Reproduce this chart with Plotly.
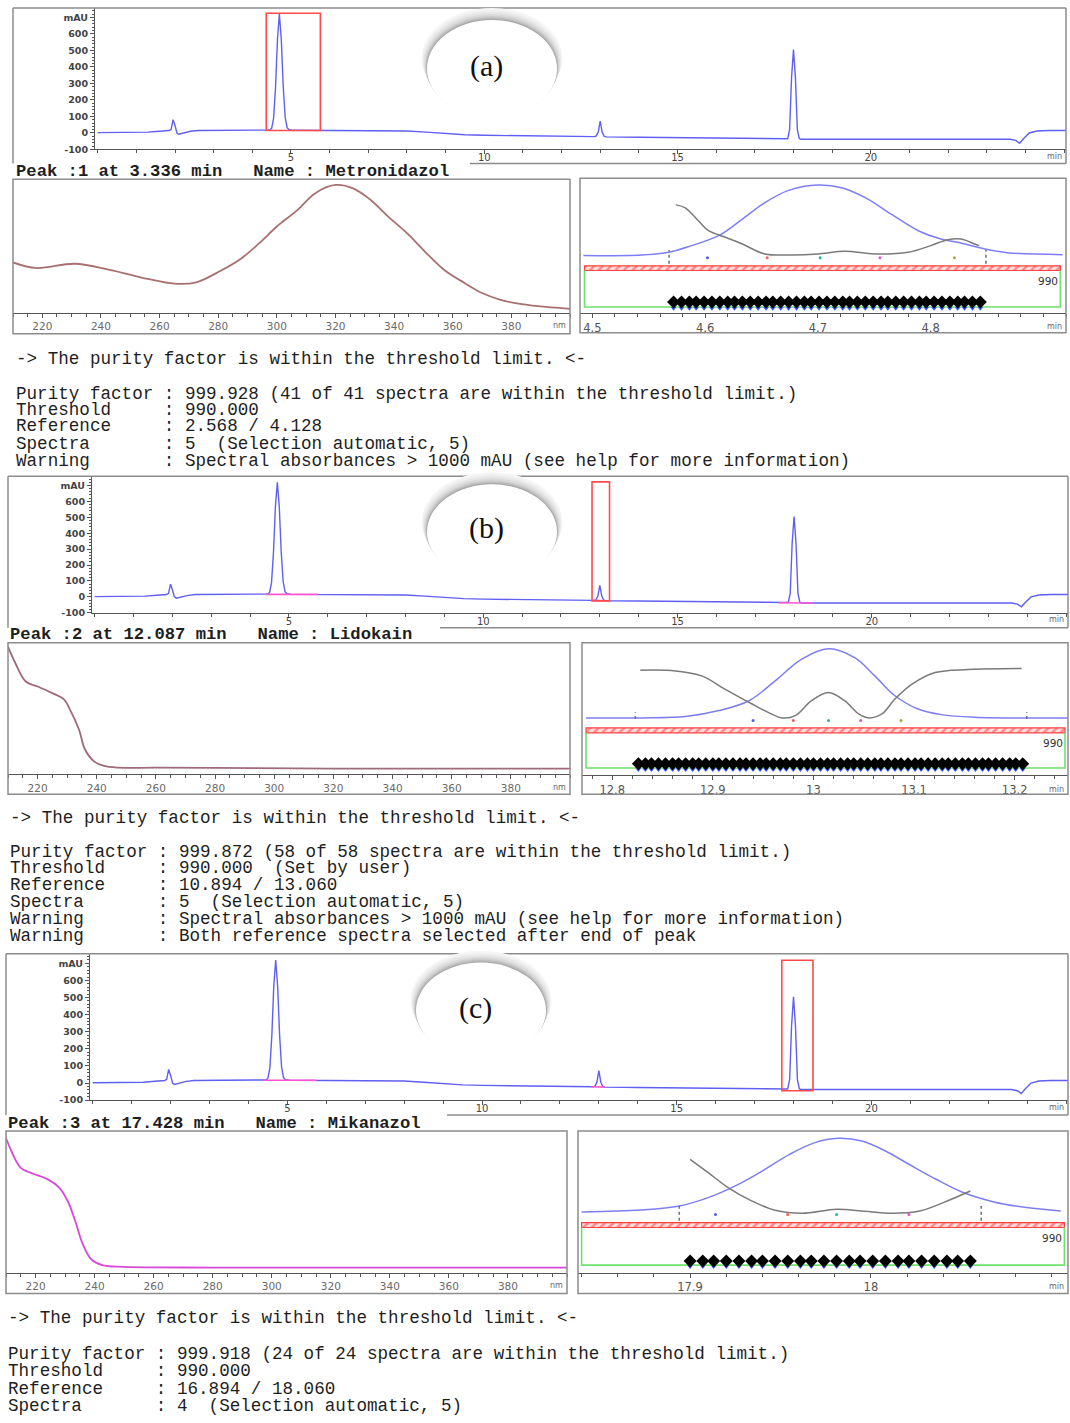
import plotly.graph_objects as go

W, H = 1070, 1423

# ===================== DATA =====================
# Chromatogram (same run shown in panels a, b, c)
chrom_time = [0.0, 1.0, 1.3, 1.6, 1.85, 1.9, 1.95, 2.0, 2.05, 2.1, 2.2, 2.4, 2.6, 3.5, 4.4, 4.45, 4.5, 4.55,
              4.6, 4.65, 4.7, 4.75, 4.8, 4.85, 4.9, 4.95, 5.05, 6.0, 7.0, 8.0, 8.5, 9.0, 9.5, 10.0, 11.0, 12.0,
              12.85, 12.9, 12.95, 13.0, 13.05, 13.1, 13.15, 14.0, 15.0, 16.0, 17.0, 17.8, 17.85, 17.9, 17.95,
              18.0, 18.05, 18.1, 18.15, 18.2, 20.0, 22.0, 23.6, 23.75, 23.85, 23.95, 24.1, 24.3, 24.6, 25.1]
chrom_mau = [2, 3, 5, 10, 15, 22, 80, 45, 0, -8, -3, 10, 15, 15, 16, 18, 28, 88,
             275, 565, 720, 565, 280, 95, 32, 20, 16, 15, 14, 12, 5, -5, -11, -14, -17, -20,
             -22, -18, 5, 72, 5, -20, -24, -26, -28, -32, -35, -37, -35, 20, 335,
             505, 335, 20, -35, -38, -38, -38, -38, -45, -62, -35, 0, 12, 15, 15]
chrom_ytick_vals = [-100, 0, 100, 200, 300, 400, 500, 600, 700]
chrom_ytick_text = ['-100', '0', '100', '200', '300', '400', '500', '600', 'mAU']
chrom_xtick_vals = [5, 10, 15, 20]

# highlighted peak windows (min) and their mAU span
win_a_t = [4.36, 5.76]
win_a_mau = [15, 725]
win_b_t = [12.8, 13.25]
win_b_mau = [-25, 722]
win_c_t = [17.7, 18.5]
win_c_mau = [-45, 718]

# integration baselines (magenta)
base_b_t = [4.4, 5.75, None, 12.85, 13.2, None, 17.6, 18.5]
base_b_mau = [16, 16, None, -22, -24, None, -37, -38]
base_c_t = [4.4, 5.75, None, 12.8, 13.15]
base_c_mau = [16, 16, None, -22, -24]

# UV spectra (normalised absorbance)
spec_ticks = [220, 240, 260, 280, 300, 320, 340, 360, 380]
spec_a_nm = [210, 218, 231, 243, 256, 265, 272.5, 281, 288, 294, 300, 307, 313, 320, 326, 332, 338, 345,
             351, 357, 364, 370, 376, 383, 389, 400]
spec_a_abs = [0.378, 0.336, 0.368, 0.323, 0.254, 0.219, 0.229, 0.318, 0.41, 0.522, 0.647, 0.77, 0.895, 0.958,
              0.933, 0.846, 0.721, 0.585, 0.448, 0.323, 0.224, 0.149, 0.10, 0.067, 0.05, 0.03]
spec_b_nm = [210, 212.5, 216, 220, 225, 229, 231, 234, 236, 239, 242.5, 247.5, 260, 280, 320, 400]
spec_b_abs = [0.97, 0.844, 0.705, 0.667, 0.617, 0.567, 0.49, 0.34, 0.19, 0.10, 0.063, 0.05, 0.05, 0.048, 0.043, 0.043]
spec_c_nm = [210, 212, 215, 219, 224, 228, 231, 233.5, 236, 239, 243, 250, 280, 400]
spec_c_abs = [0.95, 0.85, 0.74, 0.70, 0.66, 0.60, 0.50, 0.36, 0.20, 0.09, 0.05, 0.04, 0.035, 0.035]

# Peak purity panels (normalised signal units)
pa_range = [4.489, 4.92]
pa_ticks = [4.5, 4.6, 4.7, 4.8]
pa_ticktext = ['4.5', '4.6', '4.7', '4.8']
pa_blue_t = [4.492, 4.544, 4.568, 4.588, 4.612, 4.633, 4.653, 4.674, 4.700, 4.721, 4.742, 4.765, 4.789, 4.809,
             4.824, 4.848, 4.868, 4.917]
pa_blue_v = [0.426, 0.431, 0.451, 0.50, 0.574, 0.697, 0.82, 0.911, 0.951, 0.931, 0.857, 0.734, 0.611, 0.549,
             0.525, 0.475, 0.448, 0.433]
pa_gray_t = [4.574, 4.582, 4.594, 4.603, 4.618, 4.633, 4.653, 4.677, 4.700, 4.724, 4.750, 4.780, 4.800, 4.815,
             4.827, 4.839, 4.843]
pa_gray_v = [0.803, 0.783, 0.685, 0.611, 0.562, 0.512, 0.438, 0.431, 0.438, 0.458, 0.438, 0.451, 0.50, 0.544,
             0.549, 0.512, 0.50]
pa_bounds_t = [4.568, 4.849]
pa_bounds_v = [0.365, 0.468]
pa_dot_t = [4.602, 4.655, 4.702, 4.755, 4.821]
pa_dot_v = [0.409, 0.409, 0.409, 0.409, 0.409]
pa_band_t = [4.493, 4.915]
pa_band_v = [0.315, 0.35]
pa_box_bottom = 0.044
pa_spec_t = [4.572, 4.579, 4.586, 4.592, 4.599, 4.606, 4.613, 4.620, 4.626, 4.633, 4.640, 4.647, 4.654, 4.660,
             4.667, 4.674, 4.681, 4.688, 4.694, 4.701, 4.708, 4.715, 4.722, 4.728, 4.735, 4.742, 4.749, 4.756,
             4.762, 4.769, 4.776, 4.783, 4.790, 4.796, 4.803, 4.810, 4.817, 4.824, 4.830, 4.837, 4.844]
pa_spec_v = 0.081
pa_arrow_v = 0.034

pb_range = [12.770, 13.253]
pb_ticks = [12.8, 12.9, 13.0, 13.1, 13.2]
pb_ticktext = ['12.8', '12.9', '13', '13.1', '13.2']
pb_blue_t = [12.774, 12.830, 12.873, 12.906, 12.936, 12.962, 12.988, 13.015, 13.041, 13.061, 13.081, 13.104,
             13.127, 13.160, 13.253]
pb_blue_v = [0.4325, 0.4325, 0.443, 0.488, 0.5625, 0.7125, 0.875, 0.955, 0.8875, 0.75, 0.6, 0.5, 0.4575,
             0.4375, 0.4325]
pb_gray_t = [12.828, 12.863, 12.889, 12.912, 12.939, 12.955, 12.969, 12.982, 12.998, 13.015, 13.031, 13.045,
             13.055, 13.068, 13.081, 13.098, 13.121, 13.154, 13.207]
pb_gray_v = [0.7925, 0.7875, 0.75, 0.65, 0.5375, 0.475, 0.4325, 0.45, 0.5625, 0.625, 0.5625, 0.4625, 0.4325,
             0.4625, 0.575, 0.6875, 0.775, 0.7975, 0.805]
pb_bounds_t = [12.823, 13.212]
pb_bounds_v = [0.425, 0.475]
pb_dot_t = [12.94, 12.98, 13.015, 13.047, 13.087]
pb_dot_v = [0.4125, 0.4125, 0.4125, 0.4125, 0.4125]
pb_band_t = [12.774, 13.25]
pb_band_v = [0.32, 0.3575]
pb_box_bottom = 0.055
pb_spec_t = [12.826, 12.833, 12.839, 12.846, 12.853, 12.860, 12.866, 12.873, 12.880, 12.886, 12.893, 12.900,
             12.906, 12.913, 12.920, 12.927, 12.933, 12.940, 12.947, 12.953, 12.960, 12.967, 12.973, 12.980,
             12.987, 12.994, 13.000, 13.007, 13.014, 13.020, 13.027, 13.034, 13.040, 13.047, 13.054, 13.061,
             13.067, 13.074, 13.081, 13.087, 13.094, 13.101, 13.107, 13.114, 13.121, 13.128, 13.134, 13.141,
             13.148, 13.154, 13.161, 13.168, 13.174, 13.181, 13.188, 13.195, 13.201, 13.208]
pb_spec_v = 0.0875
pb_arrow_v = 0.043

pc_range = [17.838, 18.109]
pc_ticks = [17.9, 18.0]
pc_ticktext = ['17.9', '18']
pc_blue_t = [17.840, 17.873, 17.894, 17.910, 17.925, 17.940, 17.955, 17.969, 17.982, 17.995, 18.008, 18.021,
             18.036, 18.051, 18.068, 18.086, 18.105]
pc_blue_v = [0.428, 0.442, 0.47, 0.529, 0.612, 0.718, 0.835, 0.918, 0.948, 0.929, 0.859, 0.765, 0.659, 0.565,
             0.499, 0.459, 0.435]
pc_gray_t = [17.900, 17.910, 17.921, 17.934, 17.947, 17.962, 17.981, 17.995, 18.012, 18.027, 18.040, 18.055]
pc_gray_v = [0.80, 0.706, 0.60, 0.506, 0.44, 0.419, 0.447, 0.435, 0.419, 0.435, 0.494, 0.576]
pc_bounds_t = [17.894, 18.061]
pc_bounds_v = [0.365, 0.47]
pc_dot_t = [17.914, 17.954, 17.981, 18.021]
pc_dot_v = [0.41, 0.41, 0.41, 0.41]
pc_band_t = [17.840, 18.107]
pc_band_v = [0.318, 0.353]
pc_box_bottom = 0.052
pc_spec_t = [17.900, 17.907, 17.913, 17.920, 17.927, 17.934, 17.940, 17.947, 17.954, 17.961, 17.967, 17.974,
             17.981, 17.988, 17.994, 18.001, 18.008, 18.015, 18.021, 18.028, 18.035, 18.042, 18.048, 18.055]
pc_spec_v = 0.082
pc_arrow_v = 0.042

# Report texts
peak_a = "Peak :1 at 3.336 min   Name : Metronidazol"
peak_b = "Peak :2 at 12.087 min   Name : Lidokain"
peak_c = "Peak :3 at 17.428 min   Name : Mikanazol"
report_a = ["-> The purity factor is within the threshold limit. <-",
            "",
            "Purity factor : 999.928 (41 of 41 spectra are within the threshold limit.)",
            "Threshold     : 990.000",
            "Reference     : 2.568 / 4.128",
            "Spectra       : 5  (Selection automatic, 5)",
            "Warning       : Spectral absorbances > 1000 mAU (see help for more information)"]
report_b = ["-> The purity factor is within the threshold limit. <-",
            "",
            "Purity factor : 999.872 (58 of 58 spectra are within the threshold limit.)",
            "Threshold     : 990.000  (Set by user)",
            "Reference     : 10.894 / 13.060",
            "Spectra       : 5  (Selection automatic, 5)",
            "Warning       : Spectral absorbances > 1000 mAU (see help for more information)",
            "Warning       : Both reference spectra selected after end of peak"]
report_c = ["-> The purity factor is within the threshold limit. <-",
            "",
            "Purity factor : 999.918 (24 of 24 spectra are within the threshold limit.)",
            "Threshold     : 990.000",
            "Reference     : 16.894 / 18.060",
            "Spectra       : 4  (Selection automatic, 5)"]
panel_labels = ["(a)", "(b)", "(c)"]

# ===================== LAYOUT HELPERS =====================
def fx(p):
    return p / W


def fy(p):
    return 1 - p / H


fig = go.Figure()
layout = dict(width=W, height=H, autosize=False, margin=dict(l=0, r=0, t=0, b=0),
              paper_bgcolor='white', plot_bgcolor='white', showlegend=False)
shapes = []
annotations = []

FRAME = '#8c8c8c'
AXC = '#555555'
MONO = 'Liberation Mono'
SANS = 'DejaVu Sans'


def keys(n):
    s = '' if n == 1 else str(n)
    return 'xaxis' + s, 'yaxis' + s, 'x' + s, 'y' + s


def esc(s):
    return s.replace('&', '&amp;').replace('<', '&lt;').replace('>', '&gt;').replace(' ', '\u00a0')


def text(x, y, s, size, family=MONO, color='#1e1e1e', anchor='left', weight='normal'):
    annotations.append(dict(x=fx(x), y=fy(y), xref='paper', yref='paper', text=esc(s), showarrow=False,
                            xanchor=anchor, yanchor='middle',
                            font=dict(family=family, size=size, color=color, weight=weight)))


def seg(x0, y0, x1, y1, color=FRAME, width=1.5):
    shapes.append(dict(type='line', xref='paper', yref='paper', x0=fx(x0), y0=fy(y0), x1=fx(x1), y1=fy(y1),
                       line=dict(color=color, width=width)))


def rect(x0, y0, x1, y1, color=FRAME, width=1.5):
    shapes.append(dict(type='rect', xref='paper', yref='paper', x0=fx(x0), y0=fy(y0), x1=fx(x1), y1=fy(y1),
                       line=dict(color=color, width=width)))


def label_ellipse(x0, y0, x1, y1, label, tx, ty):
    layers = [(12, '#f6f6f6'), (10, '#efefef'), (8, '#e6e6e6'), (6, '#dadada'), (4, '#cccccc'),
              (2.5, '#bcbcbc'), (1.2, '#aaaaaa')]
    for d, c in layers:
        shapes.append(dict(type='circle', xref='paper', yref='paper', x0=fx(x0 - d * 0.45), x1=fx(x1 + d * 0.45),
                           y0=fy(y0 - d), y1=fy(y1 - d * 0.7), fillcolor=c, line=dict(width=0)))
    shapes.append(dict(type='circle', xref='paper', yref='paper', x0=fx(x0), x1=fx(x1), y0=fy(y0), y1=fy(y1),
                       fillcolor='white', line=dict(width=0)))
    text(tx, ty, label, 30, family='Liberation Serif', color='#111111', anchor='center')


# ===================== CHROMATOGRAMS =====================
chrom_panels = [
    (1, (95, 1066, 8, 150), win_a_t, win_a_mau, None, None),
    (2, (92, 1068, 478, 615), win_b_t, win_b_mau, base_b_t, base_b_mau),
    (3, (90, 1068, 957, 1104), win_c_t, win_c_mau, base_c_t, base_c_mau),
]
for n, (x0, x1, top, bot), wt, wm, bt, bm in chrom_panels:
    xk, yk, xr, yr = keys(n)
    layout[xk] = dict(domain=[fx(x0), fx(x1)], anchor=yr, range=[-0.07, 25.05], showline=True, linecolor=AXC,
                      linewidth=1, ticks='outside', ticklen=4, tickcolor=AXC, tickmode='array',
                      tickvals=chrom_xtick_vals, ticktext=[str(v) for v in chrom_xtick_vals],
                      minor=dict(tickmode='linear', tick0=0, dtick=1, ticks='outside', ticklen=3, tickcolor=AXC),
                      showgrid=False, zeroline=False, fixedrange=True, ticklabelstandoff=-5,
                      tickfont=dict(family=SANS, size=10, color='#444444'))
    layout[yk] = dict(domain=[fy(bot), fy(top)], anchor=xr, range=[-100, 757], showline=True, linecolor=AXC,
                      linewidth=1, ticks='outside', ticklen=4, tickcolor=AXC, tickmode='array',
                      tickvals=chrom_ytick_vals, ticktext=chrom_ytick_text,
                      minor=dict(tickmode='linear', tick0=-100, dtick=20, ticks='outside', ticklen=2, tickcolor=AXC),
                      showgrid=False, zeroline=False, fixedrange=True,
                      tickfont=dict(family=SANS, size=9.5, color='#444444', weight='bold'))
    fig.add_trace(go.Scatter(x=chrom_time, y=chrom_mau, mode='lines', line=dict(color='#5f5ff2', width=1.4),
                             xaxis=xr, yaxis=yr, hoverinfo='skip'))
    if bt is not None:
        fig.add_trace(go.Scatter(x=bt, y=bm, mode='lines', line=dict(color='#ff55d0', width=1.6),
                                 xaxis=xr, yaxis=yr, hoverinfo='skip'))
    shapes.append(dict(type='rect', xref=xr, yref=yr, x0=wt[0], x1=wt[1], y0=wm[0], y1=wm[1],
                       line=dict(color='#ff4a4a', width=1.6)))
    annotations.append(dict(x=fx(x1 - 2), y=fy(bot + 7), xref='paper', yref='paper', text='min', showarrow=False,
                            xanchor='right', yanchor='middle', font=dict(family=SANS, size=8, color='#666666')))

# frames of chromatograms
seg(13, 8, 1066, 8); seg(13, 8, 13, 164); seg(1066, 8, 1066, 164); seg(470, 164, 1066, 164)
seg(8, 478, 1068, 478); seg(8, 478, 8, 630); seg(1068, 478, 1068, 630); seg(440, 630, 1068, 630)
seg(6, 957, 1068, 957); seg(6, 957, 6, 1119); seg(1068, 957, 1068, 1119); seg(447, 1119, 1068, 1119)

label_ellipse(427, 20, 557, 118, panel_labels[0], 486, 66)
label_ellipse(427, 486, 557, 582, panel_labels[1], 486, 530)
label_ellipse(416, 966, 546, 1062, panel_labels[2], 475, 1012)

text(14, 172, peak_a, 17.2, weight='bold')
text(8, 637, peak_b, 17.2, weight='bold')
text(6, 1127, peak_c, 17.2, weight='bold')

# ===================== SPECTRA =====================
spec_panels = [
    (4, (13, 570, 180, 314, 335), spec_a_nm, spec_a_abs, '#a8716f'),
    (5, (8, 570, 645, 777, 797), spec_b_nm, spec_b_abs, '#a06a78'),
    (6, (6, 567, 1135, 1277, 1298), spec_c_nm, spec_c_abs, '#d84ad8'),
]
for n, (x0, x1, top, axl, bot), nm, ab, col in spec_panels:
    xk, yk, xr, yr = keys(n)
    layout[xk] = dict(domain=[fx(x0), fx(x1)], anchor=yr, range=[210, 400], showline=True, linecolor=AXC,
                      linewidth=1, ticks='outside', ticklen=4, tickcolor=AXC, tickmode='array',
                      tickvals=spec_ticks, ticktext=[str(v) for v in spec_ticks],
                      minor=dict(tickmode='linear', tick0=210, dtick=5, ticks='outside', ticklen=3, tickcolor=AXC),
                      showgrid=False, zeroline=False, fixedrange=True,
                      tickfont=dict(family=SANS, size=10.5, color='#6a6a6a'))
    layout[yk] = dict(domain=[fy(axl), fy(top)], anchor=xr, range=[0, 1.0], visible=False, fixedrange=True)
    fig.add_trace(go.Scatter(x=nm, y=ab, mode='lines', line=dict(color=col, width=1.8, shape='spline', smoothing=1.0),
                             xaxis=xr, yaxis=yr, hoverinfo='skip'))
    rect(x0, top, x1, bot)
    annotations.append(dict(x=fx(x1 - 2), y=fy(axl + 13), xref='paper', yref='paper', text='nm', showarrow=False,
                            xanchor='right', yanchor='middle', font=dict(family=SANS, size=8, color='#666666')))

# ===================== PEAK PURITY =====================
pur_panels = [
    (7, (580, 1066, 179, 314, 334), pa_range, pa_ticks, pa_ticktext, pa_blue_t, pa_blue_v, pa_gray_t, pa_gray_v,
     pa_bounds_t, pa_bounds_v, pa_dot_t, pa_dot_v, pa_band_t, pa_band_v, pa_box_bottom, pa_spec_t, pa_spec_v,
     pa_arrow_v),
    (8, (582, 1068, 645, 778, 797), pb_range, pb_ticks, pb_ticktext, pb_blue_t, pb_blue_v, pb_gray_t, pb_gray_v,
     pb_bounds_t, pb_bounds_v, pb_dot_t, pb_dot_v, pb_band_t, pb_band_v, pb_box_bottom, pb_spec_t, pb_spec_v,
     pb_arrow_v),
    (9, (578, 1068, 1135, 1277, 1298), pc_range, pc_ticks, pc_ticktext, pc_blue_t, pc_blue_v, pc_gray_t, pc_gray_v,
     pc_bounds_t, pc_bounds_v, pc_dot_t, pc_dot_v, pc_band_t, pc_band_v, pc_box_bottom, pc_spec_t, pc_spec_v,
     pc_arrow_v),
]
dot_colors = ['#5060f0', '#f06060', '#30b0a0', '#e050e0', '#b0a040']
for (n, (x0, x1, top, axl, bot), xrng, tv, tt, bt_, bv_, gt_, gv_, bdt, bdv, dtt, dtv, bandt, bandv,
     boxb, spt, spv, arv) in pur_panels:
    xk, yk, xr, yr = keys(n)
    layout[xk] = dict(domain=[fx(x0), fx(x1)], anchor=yr, range=xrng, showline=True, linecolor=AXC,
                      linewidth=1, ticks='outside', ticklen=4, tickcolor=AXC, tickmode='array',
                      tickvals=tv, ticktext=tt,
                      minor=dict(tickmode='linear', tick0=tv[0], dtick=0.02, ticks='outside', ticklen=3,
                                 tickcolor=AXC),
                      showgrid=False, zeroline=False, fixedrange=True,
                      tickfont=dict(family=SANS, size=11.5, color='#555555'))
    layout[yk] = dict(domain=[fy(axl), fy(top)], anchor=xr, range=[0, 1.0], visible=False, fixedrange=True)
    # threshold band (hatched)
    fig.add_trace(go.Bar(orientation='h', y=[(bandv[0] + bandv[1]) / 2], x=[bandt[1] - bandt[0]], base=[bandt[0]],
                         width=[bandv[1] - bandv[0]],
                         marker=dict(color='#ffd6d6', line=dict(color='#ff4040', width=1.2),
                                     pattern=dict(shape='/', fgcolor='#ff3030', bgcolor='#ffdcdc', size=6,
                                                  solidity=0.4)),
                         xaxis=xr, yaxis=yr, hoverinfo='skip'))
    # limit box (green)
    fig.add_trace(go.Scatter(x=[bandt[0], bandt[0], bandt[1], bandt[1]], y=[bandv[0], boxb, boxb, bandv[0]],
                             mode='lines', line=dict(color='#6ee06e', width=1.6), xaxis=xr, yaxis=yr,
                             hoverinfo='skip'))
    # signal and similarity curves
    fig.add_trace(go.Scatter(x=bt_, y=bv_, mode='lines', line=dict(color='#7e7ef4', width=1.5, shape='spline'),
                             xaxis=xr, yaxis=yr, hoverinfo='skip'))
    fig.add_trace(go.Scatter(x=gt_, y=gv_, mode='lines', line=dict(color='#7a7a7a', width=1.5, shape='spline'),
                             xaxis=xr, yaxis=yr, hoverinfo='skip'))
    # peak start / end markers
    fig.add_trace(go.Scatter(x=[bdt[0], bdt[0], None, bdt[1], bdt[1]], y=[bdv[0], bdv[1], None, bdv[0], bdv[1]],
                             mode='lines', line=dict(color='#6a7a80', width=1.6, dash='dot'),
                             xaxis=xr, yaxis=yr, hoverinfo='skip'))
    # reference / selected spectra dots
    fig.add_trace(go.Scatter(x=dtt, y=dtv, mode='markers',
                             marker=dict(size=3, color=dot_colors[:len(dtt)]),
                             xaxis=xr, yaxis=yr, hoverinfo='skip'))
    # purity of each spectrum
    fig.add_trace(go.Scatter(x=spt, y=[arv] * len(spt), mode='markers',
                             marker=dict(symbol='triangle-down', size=5, color='#3a55ff'),
                             xaxis=xr, yaxis=yr, hoverinfo='skip'))
    fig.add_trace(go.Scatter(x=spt, y=[spv] * len(spt), mode='markers',
                             marker=dict(symbol='diamond', size=10, color='#000000'),
                             xaxis=xr, yaxis=yr, hoverinfo='skip'))
    rect(x0, top, x1, bot)
    annotations.append(dict(x=bandt[1], y=bandv[0] - 0.015, xref=xr, yref=yr, text='990', showarrow=False,
                            xanchor='right', yanchor='top', font=dict(family=SANS, size=10.5, color='#333333')))
    annotations.append(dict(x=fx(x1 - 2), y=fy(axl + 14), xref='paper', yref='paper', text='min', showarrow=False,
                            xanchor='right', yanchor='middle', font=dict(family=SANS, size=8, color='#666666')))

# ===================== REPORT TEXT =====================
for (x, ys, lines) in [(14, [360, 378, 395, 411, 428, 446, 463], report_a),
                       (8, [821, 838, 855, 871, 888, 905, 922, 939], report_b),
                       (6, [1323, 1341, 1359, 1376, 1394, 1411], report_c)]:
    for y, s in zip(ys, lines):
        if s:
            text(x, y, s, 17.6)

layout['shapes'] = shapes
layout['annotations'] = annotations
layout['barmode'] = 'overlay'
fig.update_layout(**layout)
fig.write_html("out.html")
